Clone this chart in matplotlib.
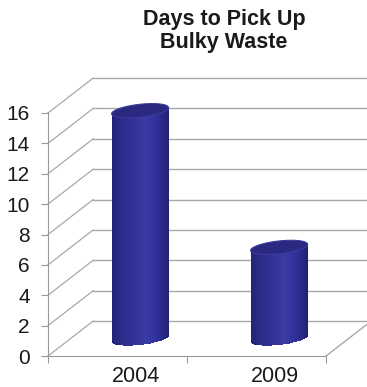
import numpy as np
import matplotlib.pyplot as plt
from matplotlib.patches import Polygon
from matplotlib.colors import LinearSegmentedColormap

# data
years = ['2004', '2009']
days = [15, 6]
yticks = list(range(0, 17, 2))

plt.rcParams['font.family'] = ['Liberation Sans', 'DejaVu Sans']

fig = plt.figure(figsize=(3.67, 3.87), dpi=100)
ax = fig.add_axes([48/367, 31/387, 278/367, 243/387])
ax.set_xlim(0, 2)
ax.set_ylim(0, 16)

# fake 3d depth (in data units)
dx = 0.325
dy = 2.3
grid_col = '#a8a8a8'

# back wall gridlines + diagonals on the left side wall
for v in yticks:
    ax.plot([dx, 2 + dx + 0.1], [v + dy, v + dy], color=grid_col, lw=1, clip_on=False, zorder=1)
    ax.plot([0, dx], [v, v + dy], color=grid_col, lw=0.9, clip_on=False, zorder=1)
# right edge of the floor
ax.plot([2, 2 + dx], [0, dy], color=grid_col, lw=1, clip_on=False, zorder=1)

# cylinders (ellipses a bit sheared like the original)
cmap = LinearSegmentedColormap.from_list('cyl', ['#23237a', '#2c2c8c', '#333398', '#3b3ba4', '#30309a', '#222276'])
w = 0.41
eh = 0.85
shear = 0.2
n = 60
t = np.linspace(0, 2 * np.pi, 100)
for i, v in enumerate(days):
    cx = i + 0.5 + dx / 2
    base = dy / 2
    top = v + dy / 2
    xs = cx - w / 2 + (np.arange(n) + 0.5) * w / n
    rel = (xs - cx) / (w / 2)
    circ = eh / 2 * np.sqrt(np.clip(1 - rel**2, 0, 1))
    low = base - circ + shear * rel
    high = top + shear * rel
    ax.bar(xs, high - low, width=w / n * 1.05, bottom=low, color=cmap(np.linspace(0, 1, n)),
           linewidth=0, clip_on=False, zorder=3)
    px = cx + w / 2 * np.cos(t)
    py = top + eh / 2 * np.sin(t) + shear * np.cos(t)
    ax.add_patch(Polygon(np.column_stack([px, py]), closed=True, facecolor='#29297f',
                         edgecolor='#3a3aa0', lw=0.8, clip_on=False, zorder=4))

# axes look
for s in ['top', 'right']:
    ax.spines[s].set_visible(False)
ax.spines['left'].set_color('#999999')
ax.spines['bottom'].set_color('#999999')
ax.set_yticks(yticks)
ax.set_yticklabels([str(v) for v in yticks])
ax.set_xticks([0, 1, 2])
ax.set_xticklabels([])
ax.tick_params(axis='y', length=5, color='#999999', labelsize=15, pad=8, labelcolor='#1a1a1a')
ax.tick_params(axis='x', length=5, color='#999999')
ax.patch.set_visible(False)

for i, yr in enumerate(years):
    ax.text(i + 0.63, -0.107, yr, transform=ax.get_xaxis_transform(), ha='center', va='baseline',
            fontsize=15.5, color='#1a1a1a')

fig.text(0.61, 0.92, 'Days to Pick Up\nBulky Waste', ha='center', va='center',
         fontsize=15.5, fontweight='bold', linespacing=1.1, color='#1a1a1a')

plt.savefig('out.png', dpi=100)
plt.close()
